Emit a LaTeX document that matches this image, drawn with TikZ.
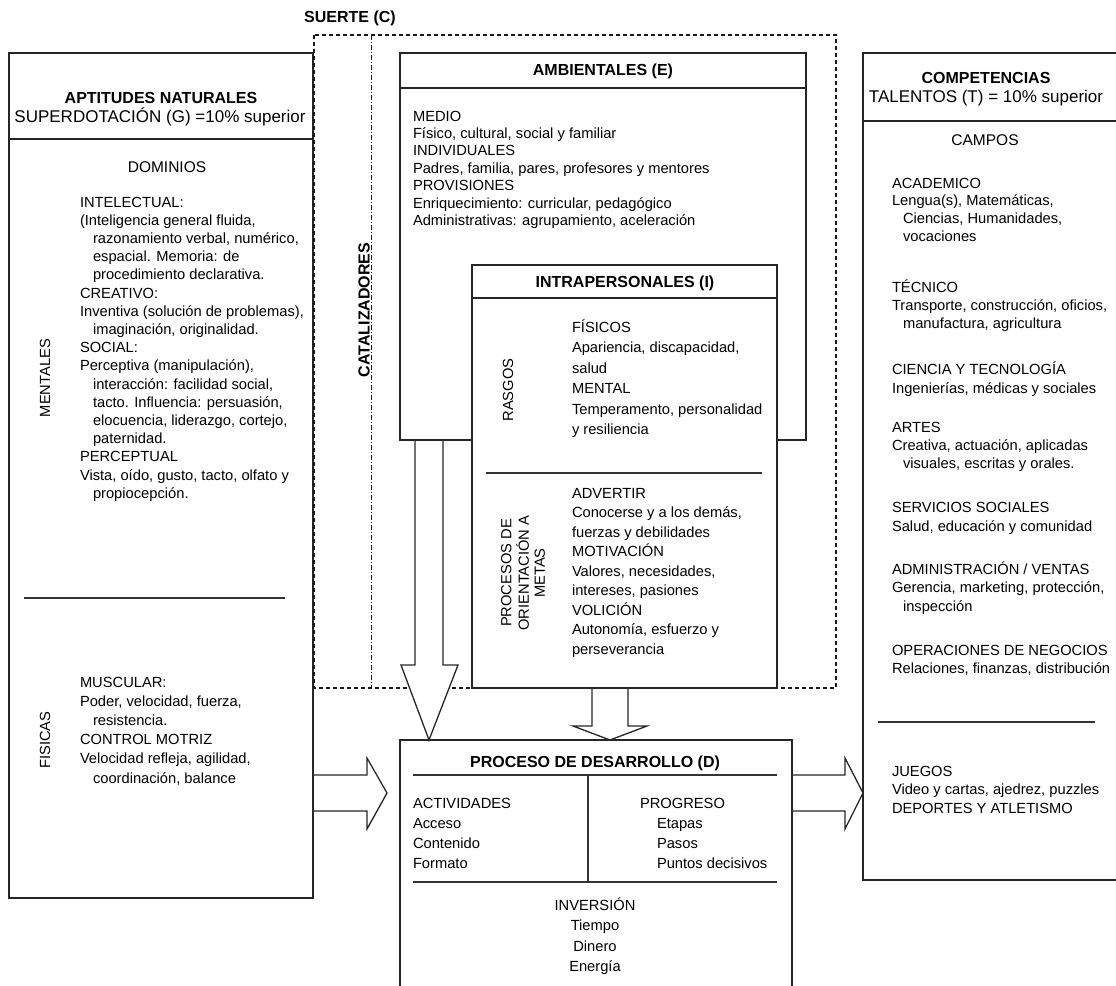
\documentclass[tikz,border=0pt]{standalone}
\usepackage{fontspec}
\setmainfont{Liberation Sans}
\usetikzlibrary{calc}
\newcommand{\ind}{\hspace*{13pt}}
\newcommand{\indr}{\hspace*{11pt}}
\newcommand{\lb}[1]{\begin{tabular}[t]{@{}l@{}}#1\end{tabular}}
\newcommand{\cb}[1]{\begin{tabular}[t]{@{}c@{}}#1\end{tabular}}
\tikzset{
  ln/.style={draw=black!85, line width=1.3pt},
  sep/.style={draw=black!80, line width=1.1pt},
  dsh/.style={draw=black!90, line width=1.1pt, dash pattern=on 4pt off 3pt},
  dshdot/.style={draw=black!90, line width=0.9pt, dash pattern=on 5pt off 2pt on 1pt off 2pt},
  arr/.style={ln, fill=white, line join=miter},
  tx/.style={inner sep=0pt, outer sep=0pt, anchor=base west, font={\fontsize{14.7}{#1}\selectfont}},
  tx/.default=18,
  tc/.style={inner sep=0pt, outer sep=0pt, anchor=base, font={\fontsize{14.7}{#1}\selectfont}},
  tc/.default=18,
  ttl/.style={inner sep=0pt, anchor=base, font={\fontsize{16}{18}\selectfont\bfseries}},
  sub/.style={inner sep=0pt, anchor=base, font={\fontsize{17}{18}\selectfont}},
  hd/.style={inner sep=0pt, anchor=base, font={\fontsize{15.5}{18}\selectfont}},
  rot/.style={inner sep=0pt, rotate=90, font={\fontsize{14.7}{16}\selectfont}},
  boxn/.style={inner sep=0pt, outer sep=0pt, rectangle},
}
\begin{document}
\begin{tikzpicture}[x=1pt,y=-1pt]
\useasboundingbox (0,0) rectangle (1116,985);
\clip (0,0) rectangle (1116,985);

% box nodes (geometry)
\node[boxn, minimum width=304pt, minimum height=845pt] (apt) at (161,475.5) {};
\node[boxn, minimum width=406pt, minimum height=387pt] (amb) at (603,246.5) {};
\node[boxn, minimum width=305pt, minimum height=423pt] (intra) at (624.5,476.5) {};
\node[boxn, minimum width=392pt, minimum height=260pt] (proc) at (596,870) {};
\node[boxn, minimum width=262pt, minimum height=827pt] (comp) at (994,466.5) {};

% left box (solid), under the dashed line
\draw[ln] (apt.north west) rectangle (apt.south east);

% suerte (dashed) and catalizadores (dash-dot)
\coordinate (dtl) at (314,35);
\coordinate (dbr) at (836,688);
\draw[dsh] (dtl) rectangle (dbr);
\coordinate (ctop) at (371,35);
\coordinate (cbot) at (371,688);
\draw[dshdot] (ctop) -- (cbot);

% block arrows
\draw[arr] ($(amb.south west)+(15,0)$) -- ($(amb.south west)+(15,225)$) -- ($(amb.south west)+(1,225)$)
  -- ($(proc.north west)+(29,0)$) -- ($(amb.south west)+(58,225)$) -- ($(amb.south west)+(43,225)$) -- ($(amb.south west)+(43,0)$);
\draw[arr] ($(intra.south west)+(120,0)$) -- ($(intra.south west)+(120,38)$) -- ($(intra.south west)+(101,38)$)
  -- ($(proc.north west)+(210,0)$) -- ($(intra.south west)+(175,38)$) -- ($(intra.south west)+(156,38)$) -- ($(intra.south west)+(156,0)$);
\draw[arr] ($(apt.south east)+(0,-123)$) -- ($(apt.south east)+(54,-123)$) -- ($(apt.south east)+(54,-140)$)
  -- ($(apt.south east)+(74,-105)$) -- ($(apt.south east)+(54,-69)$) -- ($(apt.south east)+(54,-87)$) -- ($(apt.south east)+(0,-87)$);
\draw[arr] ($(proc.north east)+(0,35)$) -- ($(proc.north east)+(53,35)$) -- ($(proc.north east)+(53,18)$)
  -- ($(comp.south west)+(0,-87)$) -- ($(proc.north east)+(53,89)$) -- ($(proc.north east)+(53,71)$) -- ($(proc.north east)+(0,71)$);

% boxes
\draw[ln] (apt.south east) -- (apt.south west);
\draw[ln] (cbot -| apt.east) -- (apt.south east);
\draw[ln] (amb.north west) rectangle (amb.south east);
\draw[ln, fill=white] (intra.north west) rectangle (intra.south east);
\draw[ln] (proc.north west) rectangle (proc.south east);
\draw[ln] (comp.north west) rectangle (comp.south east);

% divider lines
\draw[ln] (9,139) -- (313,139);
\draw[sep] (24,598) -- (285,598);
\draw[ln] (400,88) -- (806,88);
\draw[ln] (472,298) -- (777,298);
\draw[sep] (486,473) -- (762,473);
\draw[sep] (413,775) -- (777,775);
\draw[sep] (588,775) -- (588,882);
\draw[sep] (413,882) -- (777,882);
\draw[ln] (863,121) -- (1116,121);
\draw[sep] (878,722) -- (1095,722);

% titles
\node[ttl] (tsuerte) at (350,22) {SUERTE (C)};
\node[ttl, rotate=90, anchor=center] (tcat) at (364,310) {CATALIZADORES};
\node[ttl] (tapt) at (161,103) {APTITUDES NATURALES};
\node[sub] (sapt) at (160,122) {SUPERDOTACIÓN (G) =10\% superior};
\node[hd] (tdom) at (167,172) {DOMINIOS};
\node[ttl] (tamb) at (603,75) {AMBIENTALES (E)};
\node[ttl] (tintra) at (625,287) {INTRAPERSONALES (I)};
\node[ttl] (tproc) at (595,767) {PROCESO DE DESARROLLO (D)};
\node[ttl] (tcomp) at (986,83) {COMPETENCIAS};
\node[sub] (scomp) at (986,102) {TALENTOS (T) = 10\% superior};
\node[hd] (tcampos) at (985,145) {CAMPOS};

% rotated labels
\node[rot] (rment) at (45,378) {MENTALES};
\node[rot] (rfis) at (45,740) {FISICAS};
\node[rot] (rrasg) at (508,390) {RASGOS};
\node[rot] (rproc) at (525,573) {\cb{PROCESOS DE\\ORIENTACIÓN A\\METAS}};

% left box texts
\node[tx=18.2] (intel) at (80,207) {\lb{INTELECTUAL:\\(Inteligencia general fluida,\\\ind razonamiento verbal, numérico,\\\ind espacial. Memoria: de\\\ind procedimiento declarativa.\\CREATIVO:\\Inventiva (solución de problemas),\\\ind imaginación, originalidad.\\SOCIAL:\\Perceptiva (manipulación),\\\ind interacción: facilidad social,\\\ind tacto. Influencia: persuasión,\\\ind elocuencia, liderazgo, cortejo,\\\ind paternidad.\\PERCEPTUAL\\Vista, oído, gusto, tacto, olfato y\\\ind propiocepción.}};
\node[tx=19.2] (musc) at (80,687) {\lb{MUSCULAR:\\Poder, velocidad, fuerza,\\\ind resistencia.\\CONTROL MOTRIZ\\Velocidad refleja, agilidad,\\\ind coordinación, balance}};

% ambientales
\node[tx=17.4] (ambt) at (413,121) {\lb{MEDIO\\Físico, cultural, social y familiar\\INDIVIDUALES\\Padres, familia, pares, profesores y mentores\\PROVISIONES\\Enriquecimiento: curricular, pedagógico\\Administrativas: agrupamiento, aceleración}};

% intrapersonales
\node[tx=20.5] (rasgt) at (572,332) {\lb{FÍSICOS\\Apariencia, discapacidad,\\salud\\MENTAL\\Temperamento, personalidad\\y resiliencia}};
\node[tx=19.5] (metat) at (572,498) {\lb{ADVERTIR\\Conocerse y a los demás,\\fuerzas y debilidades\\MOTIVACIÓN\\Valores, necesidades,\\intereses, pasiones\\VOLICIÓN\\Autonomía, esfuerzo y\\perseverancia}};

% proceso
\node[tx=20] (act) at (413,808) {\lb{ACTIVIDADES\\Acceso\\Contenido\\Formato}};
\node[tx] (prog) at (640,808) {PROGRESO};
\node[tx=20] (etap) at (657,828) {\lb{Etapas\\Pasos\\Puntos decisivos}};
\node[tc=20.5] (inv) at (595,910) {\cb{INVERSIÓN\\Tiempo\\Dinero\\Energía}};

% competencias
\node[tx=17.7] (acad) at (892,188) {\lb{ACADEMICO\\Lengua(s), Matemáticas,\\\indr Ciencias, Humanidades,\\\indr vocaciones}};
\node[tx=18] (tec) at (892,292) {\lb{TÉCNICO\\Transporte, construcción, oficios,\\\indr manufactura, agricultura}};
\node[tx=19] (cien) at (892,374) {\lb{CIENCIA Y TECNOLOGÍA\\Ingenierías, médicas y sociales}};
\node[tx=18] (artes) at (892,432) {\lb{ARTES\\Creativa, actuación, aplicadas\\\indr visuales, escritas y orales.}};
\node[tx=19] (serv) at (892,512) {\lb{SERVICIOS SOCIALES\\Salud, educación y comunidad}};
\node[tx=18.5] (adm) at (892,574) {\lb{ADMINISTRACIÓN / VENTAS\\Gerencia, marketing, protección,\\\indr inspección}};
\node[tx=18] (oper) at (892,655) {\lb{OPERACIONES DE NEGOCIOS\\Relaciones, finanzas, distribución}};
\node[tx=18.5] (jueg) at (892,776) {\lb{JUEGOS\\Video y cartas, ajedrez, puzzles\\DEPORTES Y ATLETISMO}};
\end{tikzpicture}
\end{document}
